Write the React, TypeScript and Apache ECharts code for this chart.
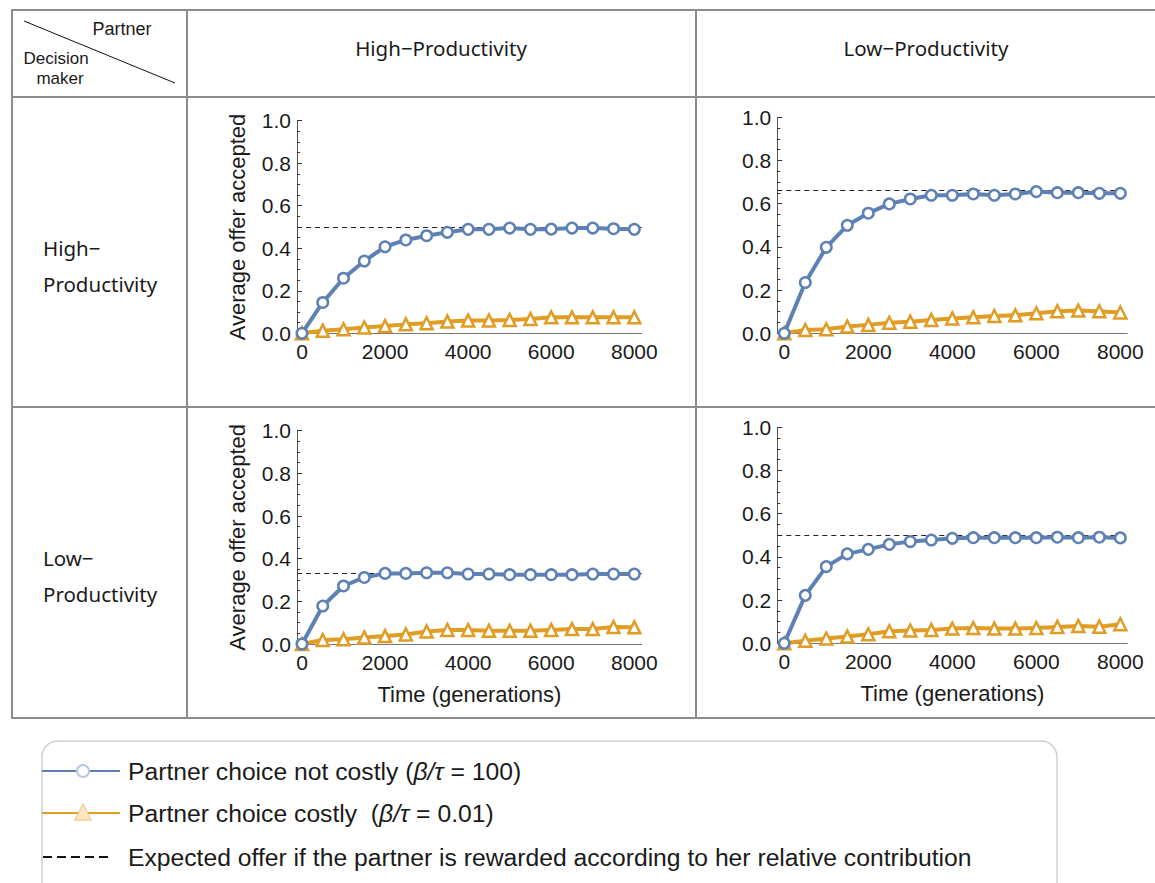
import React, { useEffect, useRef } from "react";
import * as echarts from "echarts";

const timeSteps = [0, 500, 1000, 1500, 2000, 2500, 3000, 3500, 4000, 4500, 5000, 5500, 6000, 6500, 7000, 7500, 8000];

// High decision maker / High partner
const hhNotCostly = [0, 0.145, 0.259, 0.34, 0.407, 0.439, 0.459, 0.475, 0.489, 0.489, 0.495, 0.489, 0.49, 0.495, 0.495, 0.492, 0.489];
const hhCostly = [0, 0.0125, 0.019, 0.027, 0.034, 0.042, 0.047, 0.055, 0.06, 0.06, 0.063, 0.067, 0.075, 0.075, 0.075, 0.075, 0.075];
// High decision maker / Low partner
const hlNotCostly = [0, 0.235, 0.398, 0.5, 0.556, 0.599, 0.622, 0.639, 0.639, 0.645, 0.639, 0.645, 0.656, 0.651, 0.651, 0.648, 0.648];
const hlCostly = [0, 0.015, 0.019, 0.031, 0.039, 0.049, 0.054, 0.062, 0.069, 0.074, 0.08, 0.083, 0.093, 0.102, 0.105, 0.102, 0.096];
// Low decision maker / High partner
const lhNotCostly = [0, 0.178, 0.272, 0.312, 0.331, 0.331, 0.334, 0.334, 0.328, 0.328, 0.325, 0.325, 0.325, 0.325, 0.328, 0.328, 0.328];
const lhCostly = [0, 0.019, 0.022, 0.031, 0.037, 0.045, 0.059, 0.066, 0.066, 0.062, 0.062, 0.062, 0.066, 0.07, 0.07, 0.08, 0.078];
// Low decision maker / Low partner
const llNotCostly = [0, 0.222, 0.355, 0.414, 0.435, 0.458, 0.471, 0.478, 0.486, 0.489, 0.489, 0.489, 0.489, 0.491, 0.489, 0.491, 0.488];
const llCostly = [0, 0.012, 0.022, 0.031, 0.042, 0.056, 0.059, 0.062, 0.068, 0.071, 0.068, 0.068, 0.071, 0.076, 0.08, 0.077, 0.088];

const expectedOffer = [0.5, 0.66, 0.333, 0.5];

const xTickValues = [0, 2000, 4000, 6000, 8000];
const columnHeaders = ["High\u2212Productivity", "Low\u2212Productivity"];
const rowHeaders = [["High\u2212", "Productivity"], ["Low\u2212", "Productivity"]];
const legendLabels = [
  ["Partner choice not costly (", "\u03b2/\u03c4", " = 100)"],
  ["Partner choice costly  (", "\u03b2/\u03c4", " = 0.01)"],
  ["Expected offer if the partner is rewarded according to her relative contribution"],
];
const yTitle = "Average offer accepted";
const xTitle = "Time (generations)";

const BLUE = "#5E81B5";
const ORANGE = "#E19C24";
const GRIDLINE = "#8c8c8c";
const AXISFONT = "'Liberation Sans', Arial, sans-serif";
const HEADFONT = "'Noto Sans', 'Open Sans', sans-serif";

const panels = [
  { nc: hhNotCostly, c: hhCostly, exp: expectedOffer[0], left: 297, right: 1155 - 641.7, top: 120.7, bottom: 883 - 333.3, xmin: -120, xmax: 8178, yTitle: true, xTitle: false },
  { nc: hlNotCostly, c: hlCostly, exp: expectedOffer[1], left: 777.3, right: 1155 - 1127.3, top: 117.3, bottom: 883 - 333.3, xmin: -166, xmax: 8166, yTitle: false, xTitle: false },
  { nc: lhNotCostly, c: lhCostly, exp: expectedOffer[2], left: 297, right: 1155 - 641.7, top: 430.7, bottom: 883 - 644, xmin: -120, xmax: 8178, yTitle: true, xTitle: true },
  { nc: llNotCostly, c: llCostly, exp: expectedOffer[3], left: 777.3, right: 1155 - 1127.3, top: 427.3, bottom: 883 - 643.3, xmin: -166, xmax: 8166, yTitle: false, xTitle: true },
];

export default function App() {
  const ref = useRef<HTMLDivElement>(null);
  useEffect(() => {
    if (!ref.current) return;
    const chart = echarts.init(ref.current, null, { renderer: "svg" });

    const grids: any[] = [];
    const xAxes: any[] = [];
    const yAxes: any[] = [];
    const series: any[] = [];

    panels.forEach((p, i) => {
      grids.push({ left: p.left, right: p.right, top: p.top, bottom: p.bottom, containLabel: false });
      xAxes.push({
        type: "value",
        gridIndex: i,
        min: p.xmin,
        max: p.xmax,
        splitLine: { show: false },
        axisLine: { show: true, lineStyle: { color: "#777", width: 1 } },
        axisTick: { show: false },
        axisLabel: { customValues: xTickValues, color: "#1a1a1a", fontSize: 21, fontFamily: AXISFONT, margin: 8, formatter: (v: number) => String(v) },
        name: p.xTitle ? xTitle : "",
        nameLocation: "middle",
        nameGap: 39,
        nameTextStyle: { color: "#1a1a1a", fontSize: 22, fontFamily: AXISFONT, align: "center" },
      });
      yAxes.push({
        type: "value",
        gridIndex: i,
        min: 0,
        max: 1,
        interval: 0.2,
        splitLine: { show: false },
        axisLine: { show: true, onZero: false, lineStyle: { color: "#555", width: 1 } },
        axisTick: { show: true, inside: true, length: 5, lineStyle: { color: "#333" } },
        minorTick: { show: true, splitNumber: 4, length: 3, lineStyle: { color: "#333" } },
        axisLabel: { color: "#1a1a1a", fontSize: 21, fontFamily: AXISFONT, margin: 6, formatter: (v: number) => v.toFixed(1) },
        name: p.yTitle ? yTitle : "",
        nameLocation: "middle",
        nameGap: 49,
        nameRotate: 90,
        nameTextStyle: { color: "#1a1a1a", fontSize: 22, fontFamily: AXISFONT },
      });
      series.push({
        type: "line",
        xAxisIndex: i,
        yAxisIndex: i,
        data: timeSteps.map((t, k) => [t, p.c[k]]),
        symbol: "triangle",
        symbolSize: 12,
        clip: false,
        lineStyle: { color: ORANGE, width: 4 },
        itemStyle: { color: "#fff", borderColor: ORANGE, borderWidth: 2.5 },
        z: 3,
      });
      series.push({
        type: "line",
        xAxisIndex: i,
        yAxisIndex: i,
        data: timeSteps.map((t, k) => [t, p.nc[k]]),
        symbol: "circle",
        symbolSize: 10.5,
        clip: false,
        lineStyle: { color: BLUE, width: 4 },
        itemStyle: { color: "#fff", borderColor: BLUE, borderWidth: 2.5 },
        z: 4,
        markLine: {
          silent: true,
          symbol: "none",
          label: { show: false },
          lineStyle: { color: "#222", type: [5, 4], width: 1 },
          data: [{ yAxis: p.exp }],
          z: 2,
        },
      });
    });

    const line = (x1: number, y1: number, x2: number, y2: number, color = GRIDLINE, w = 2, dash?: number[]) => ({
      type: "line",
      shape: { x1, y1, x2, y2 },
      style: { stroke: color, lineWidth: w, lineDash: dash },
      silent: true,
    });
    const text = (x: number, y: number, s: string, size: number, font: string, align = "left", extra: any = {}) => ({
      type: "text",
      x,
      y,
      style: { text: s, fontSize: size, fontFamily: font, fill: "#1a1a1a", align, verticalAlign: "middle", ...extra },
      silent: true,
    });

    const graphics: any[] = [
      line(11, 10, 1155, 10),
      line(11, 97, 1155, 97),
      line(11, 407, 1155, 407),
      line(11, 718, 1155, 718),
      line(12, 9, 12, 719),
      line(187, 9, 187, 719),
      line(696, 9, 696, 719),
      line(24, 21, 175, 83, "#111", 1),
      text(122, 29, "Partner", 18, AXISFONT, "center"),
      text(56, 58, "Decision", 17, AXISFONT, "center"),
      text(60, 78, "maker", 17, AXISFONT, "center"),
      text(441, 48, columnHeaders[0], 20.5, HEADFONT, "center"),
      text(926, 48, columnHeaders[1], 20.5, HEADFONT, "center"),
      text(43, 248, rowHeaders[0][0], 20.5, HEADFONT),
      text(43, 284, rowHeaders[0][1], 20.5, HEADFONT),
      text(43, 558, rowHeaders[1][0], 20.5, HEADFONT),
      text(43, 594, rowHeaders[1][1], 20.5, HEADFONT),
      // legend
      {
        type: "rect",
        shape: { x: 42, y: 741, width: 1015, height: 170, r: 16 },
        style: { fill: "none", stroke: "#cfcfcf", lineWidth: 1.5 },
        silent: true,
      },
      line(42, 771, 120, 771, BLUE, 2),
      {
        type: "circle",
        shape: { cx: 83, cy: 771, r: 6 },
        style: { fill: "#fff", stroke: "#b8c6df", lineWidth: 2 },
        silent: true,
      },
      line(42, 813, 120, 813, ORANGE, 2),
      {
        type: "polygon",
        shape: { points: [[83, 804], [75, 820], [91, 820]] },
        style: { fill: "#fbe7c4", stroke: "#f2d196", lineWidth: 1.5 },
        silent: true,
      },
      line(43, 857, 112, 857, "#111", 1.8, [9, 5]),
    ];
    const rich = {
      t: { fontSize: 24.7, fontFamily: AXISFONT, fill: "#1a1a1a" },
      i: { fontSize: 24.7, fontFamily: AXISFONT, fontStyle: "italic", fill: "#1a1a1a" },
    };
    [771, 813].forEach((y, k) => {
      const parts = legendLabels[k];
      graphics.push({
        type: "text",
        x: 128,
        y,
        style: {
          text: `{t|${parts[0]}}{i|${parts[1]}}{t|${parts[2]}}`,
          rich,
          verticalAlign: "middle",
          align: "left",
        },
        silent: true,
      });
    });
    graphics.push(text(128, 857, legendLabels[2][0], 24.7, AXISFONT));

    chart.setOption({
      animation: false,
      backgroundColor: "#fff",
      grid: grids,
      xAxis: xAxes,
      yAxis: yAxes,
      series,
      graphic: graphics,
    });
    return () => chart.dispose();
  }, []);

  return <div ref={ref} style={{ position: "absolute", left: 0, top: 0, width: 1155, height: 883 }} />;
}
